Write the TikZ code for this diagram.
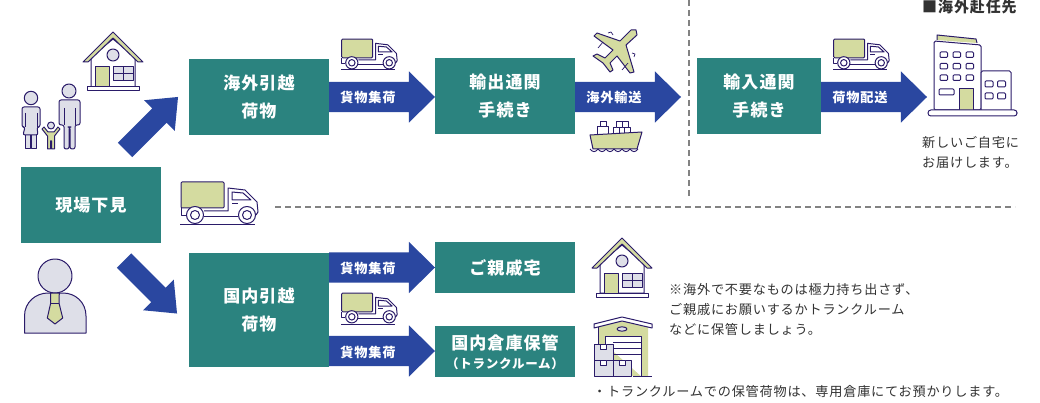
\documentclass[tikz,border=0pt]{standalone}
\usepackage{fontspec}
\setmainfont[LetterSpace=6]{Noto Sans CJK JP}
\usetikzlibrary{shapes.arrows}

\definecolor{boxteal}{RGB}{43,131,127}
\definecolor{arrowblue}{RGB}{42,71,160}
\definecolor{iconnavy}{RGB}{42,27,105}
\definecolor{icongreen}{RGB}{212,219,160}
\definecolor{iconlav}{RGB}{222,223,232}
\definecolor{dashgray}{RGB}{130,130,130}
\definecolor{notegray}{RGB}{50,50,50}

\begin{document}
\begin{tikzpicture}
[x=1pt,y=-1pt,
  stepbox/.style={fill=boxteal,text=white,inner sep=0,outer sep=0,align=center,font=\fontsize{17}{28}\selectfont\bfseries},
  bluearrow/.style={shape=single arrow,fill=arrowblue,inner xsep=0,inner ysep=15pt,outer sep=0,anchor=tail,single arrow head extend=10.5pt,single arrow tip angle=89},
  slantarrow/.style={bluearrow,inner ysep=10pt,single arrow head extend=11.5pt,single arrow tip angle=79,minimum height=75pt},
  arrowlabel/.style={text=white,inner sep=0,font=\fontsize{13.2}{16}\selectfont\bfseries},
  note/.style={text=notegray,inner sep=0,anchor=west,align=left,font=\fontsize{13.15}{20}\selectfont},
  iconline/.style={draw=iconnavy,line width=1pt,line join=round},
  dashline/.style={dashgray,line width=1.2pt,dash pattern=on 6pt off 4pt},
  truck/.pic={
    \draw[iconline,fill=icongreen,rounded corners=1pt] (1,-43) rectangle (44,-17);
    \draw[iconline] (1,-17) -- (1,-9) -- (6,-9);
    \draw[iconline] (24,-14) -- (48,-14) -- (48,-37) -- (65,-35) -- (77,-23) -- (78,-13) -- (76,-10);
    \draw[iconline] (24,-8) -- (58,-8);
    \draw[iconline] (52,-33) -- (63,-32) -- (71,-25) -- (52,-25) -- cycle;
    \draw[iconline] (52,-21) -- (58,-21);
    \draw[iconline,fill=white] (15,-10) circle (8.5);
    \draw[iconline,fill=white] (15,-10) circle (4.5);
    \draw[iconline,fill=white] (67,-10) circle (8.5);
    \draw[iconline,fill=white] (67,-10) circle (4.5);
    \draw[iconline] (0,0) -- (75,0);
  },
  house/.pic={
    \draw[iconline,fill=white] (-22,-34) -- (0,-52) -- (22,-34) -- (22,-4) -- (-22,-4) -- cycle;
    \draw[iconline,fill=icongreen] (-30,-29) -- (0,-59) -- (30,-29) -- (25,-29) -- (0,-53) -- (-25,-29) -- cycle;
    \draw[iconline,fill=iconlav] (0,-36) circle (6);
    \draw[iconline,fill=icongreen] (-18,-4) rectangle (-4,-24);
    \draw[iconline,fill=iconlav] (0,-10) rectangle (20,-24);
    \draw[iconline] (10,-10) -- (10,-24) (0,-17) -- (20,-17);
    \draw[iconline,fill=white] (-26,0) rectangle (26,-4);
  }]
  \useasboundingbox (0,0) rectangle (1040,403);

  \node[stepbox,minimum width=140pt,minimum height=76pt] (n1) at (91,205) {現場下見};

  \node[stepbox,minimum width=140pt,minimum height=76pt] (n1n1) at (259,97) {海外引越\\荷物};
  \node[stepbox,minimum width=140pt,minimum height=114pt] (n1n2) at (259,310) {国内引越\\荷物};

  \node[stepbox,minimum width=140pt,minimum height=76pt] (n1n1n1) at (505,96) {輸出通関\\手続き};
  \node[stepbox,minimum width=124pt,minimum height=76pt] (n1n1n2) at (759,96) {輸入通関\\手続き};

  \node[stepbox,minimum width=140pt,minimum height=51pt] (n1n2n1) at (505,267.5) {ご親戚宅};
  \node[stepbox,minimum width=140pt,minimum height=51pt] (n1n2n2) at (505,351.5) {};
  \node[text=white,inner sep=0,font=\fontsize{17}{20}\selectfont\bfseries] (n1n2n2t1) at (505,343) {国内倉庫保管};
  \node[text=white,inner sep=0,font=\fontsize{12.5}{15}\selectfont\bfseries] (n1n2n2t2) at (505,364) {（トランクルーム）};

  \foreach \name/\x/\y/\len in {a1/329/97/106,a2/575/97/106,a3/821/97/106,
      a4/329/267.5/106,a5/329/351/106}
     \node[bluearrow,minimum height=\len pt] (\name) at (\x,\y) {};

  \node[arrowlabel] (a1t) at (368,97) {貨物集荷};
  \node[arrowlabel] (a2t) at (614,97) {海外輸送};
  \node[arrowlabel] (a3t) at (860,97) {荷物配送};
  \node[arrowlabel] (a4t) at (368,268) {貨物集荷};
  \node[arrowlabel] (a5t) at (368,352) {貨物集荷};

  \node[slantarrow,rotate=45] (a6) at (125,150) {};
  \node[slantarrow,rotate=-45] (a7) at (124,260.5) {};

  \coordinate (d1) at (275,207);
  \coordinate (d2) at (1015,207);
  \coordinate (d3) at (689,0);
  \coordinate (d4) at (689,197);
  \draw[dashline] (d1) -- (d2);
  \draw[dashline] (d3) -- (d4);

  \pic at (180,225) {truck};
  \pic[scale=.72] at (341,70) {truck};
  \pic[scale=.72] at (833,70) {truck};
  \pic[scale=.72] at (341,324) {truck};

  \pic at (113,91) {house};
  \pic at (622,297) {house};

  % family
  \draw[iconline,fill=iconlav] (31,98) circle (6.7);
  \draw[iconline,fill=iconlav] (25,135) -- (25,149) -- (30,149) -- (30,135) -- cycle;
  \draw[iconline,fill=iconlav] (31,135) -- (31,149) -- (36,149) -- (36,135) -- cycle;
  \draw[iconline,fill=iconlav,rounded corners=2pt] (22,127) -- (22,107) -- (40,107) -- (40,127) -- (37,127) -- (38,135) -- (23,135) -- (25,127) -- cycle;
  \draw[iconline] (25,113) -- (25,127) (37,113) -- (37,127);
  \draw[iconline,fill=iconlav] (69,91) circle (7);
  \draw[iconline,fill=iconlav,rounded corners=2pt] (59,125) -- (59,100) -- (80,100) -- (80,125) -- (75,125) -- (75,149) -- (70,149) -- (70,127) -- (69,127) -- (69,149) -- (64,149) -- (64,125) -- cycle;
  \draw[iconline] (64,108) -- (64,125) (75,108) -- (75,125);
  \draw[iconline,fill=iconlav] (51,125.5) circle (3.5);
  \draw[iconline,fill=icongreen] (42,129) -- (44,127) -- (48,132) -- (54,132) -- (58,127) -- (60,129) -- (54.5,136) -- (54.5,149) -- (51.5,149) -- (51.5,141) -- (50.5,141) -- (50.5,149) -- (47.5,149) -- (47.5,136) -- cycle;

  % man with tie
  \draw[iconline,fill=iconlav] (24.5,333) -- (24.5,316) .. controls (24.5,302) and (36,293) .. (48,293) -- (63,293) .. controls (75,293) and (86,302) .. (86,316) -- (86,333) -- cycle;
  \draw[iconline,fill=iconlav] (55,276) circle (17);
  \draw[iconline,fill=icongreen] (50.7,293) -- (59.3,293) -- (59,303) -- (62.7,318) -- (55,324) -- (47.3,318) -- (50.7,303) -- cycle;
  \draw[iconline] (50.7,303) -- (59,303);

  % plane
  \draw[iconline,fill=icongreen] (636,30) -- (631,30) -- (620,41) -- (597,33) -- (594,36) -- (613,50) -- (605,58) -- (597,54) -- (593,56) -- (603,63) -- (610,72) -- (613,70) -- (610,63) -- (617,56) -- (630,73) -- (634,72) -- (626,45) -- (637,35) -- cycle;
  \draw[iconline,line width=.7pt] (598,48) -- (603,42) (622,70) -- (628,63) (608,33) -- (611,32) -- (613,35) (632,53) -- (635,54) -- (634,57);

  % ship
  \draw[iconline,fill=white] (597,135) -- (597,127) -- (608,127) -- (608,135) (600,127) -- (600,122) -- (606,122) -- (606,127);
  \draw[iconline,fill=white] (613,128) rectangle (619,135);
  \draw[iconline,fill=white] (619,128) rectangle (624.5,135);
  \draw[iconline,fill=white] (624.5,128) rectangle (630,135);
  \draw[iconline,fill=white] (616,122) rectangle (622,128);
  \draw[iconline,fill=white] (622,122) rectangle (628,128);
  \draw[iconline,fill=icongreen] (590,135) -- (642,132) -- (637,149) -- (593,149) -- cycle;
  \foreach \wx in {590,598,606,614,622,630}
     \draw[iconline,line width=.9pt] (\wx,149) .. controls (\wx+3,152.5) and (\wx+5,152.5) .. (\wx+8,149);

  % office building
  \draw[iconline,fill=icongreen] (937,40) -- (937,35) -- (976,39) -- (977,43);
  \draw[iconline,fill=white,rounded corners=1.5pt] (934,110) -- (934,41) -- (981,45) -- (981,110) -- cycle;
  \draw[iconline,fill=white,rounded corners=1.5pt] (981,110) -- (981,71) -- (1011,71) -- (1011,110);
  \foreach \wx in {940,953,966}
     \foreach \wy in {52,63.5,75}
        \draw[iconline,rounded corners=1pt] (\wx,\wy) rectangle (\wx+7.5,\wy+5.5);
  \foreach \wx in {985,997.5}
     \foreach \wy in {81,93}
        \draw[iconline,rounded corners=1pt] (\wx,\wy) rectangle (\wx+8,\wy+6);
  \draw[iconline,rounded corners=1pt] (939,89) rectangle (954,95);
  \draw[iconline,fill=icongreen] (959,110) -- (959,89) -- (973,89) -- (973,110);
  \draw[iconline,fill=white,rounded corners=2.8pt] (928,110) rectangle (1017,116);

  % warehouse
  \fill[icongreen] (598,376) -- (598,327) -- (622,320) -- (648,327) -- (648,376) -- cycle;
  \draw[iconline] (598,327) -- (598,344);
  \draw[iconline,fill=white] (641,376) -- (641,336) -- (605,336) -- (605,344);
  \draw[iconline] (613,342) -- (641,342) (613,348) -- (641,348) (613,354) -- (641,354);
  \draw[iconline,fill=white] (594,328) -- (594,324) -- (622,317) -- (652,324) -- (652,328) -- (622,321) -- cycle;
  \draw[iconline,fill=iconlav] (622,329) ellipse (5 and 2.2);
  \foreach \bx/\by/\bw in {594/344/19,594/360/19,613/360/18}{
     \draw[iconline,fill=iconlav] (\bx,\by) rectangle (\bx+\bw,\by+16);
     \draw[iconline,fill=white] (\bx+6,\by) rectangle (\bx+12.5,\by+5);
  }
  \draw[iconline] (633,376) -- (652,376);

  % texts
  \node[note,font=\fontsize{15}{18}\selectfont\bfseries] (t1) at (922,7) {■海外赴任先};
  \node[note] (t2) at (922,152) {新しいご自宅に\\お届けします。};
  \node[note] (t3) at (669,310) {※海外で不要なものは極力持ち出さず、\\ご親戚にお願いするかトランクルーム\\などに保管しましょう。};
  \node[note] (t4) at (593,392) {・トランクルームでの保管荷物は、専用倉庫にてお預かりします。};

\end{tikzpicture}
\end{document}
